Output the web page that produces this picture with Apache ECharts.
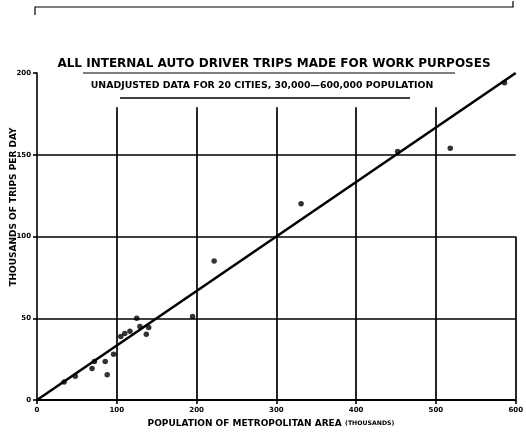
<!DOCTYPE html>
<html><head><meta charset="utf-8">
<script src="https://cdn.jsdelivr.net/npm/echarts@6/dist/echarts.min.js"></script>
<style>html,body{margin:0;padding:0;background:#fff}#c{width:526px;height:434px}</style>
</head><body><div id="c"></div>
<script>
// Data
const popX = [34, 48, 69, 72, 85.5, 88, 96, 105, 110, 116.5, 125, 129, 137, 140, 195, 222, 331, 452, 518, 586];
const trips = [11, 14.5, 19.3, 23.6, 23.6, 15.4, 28, 38.8, 40.7, 42, 50, 45, 40.2, 44.3, 51, 85, 120, 152, 154, 194];
const fitX = [0, 600];
const fitY = [0, 200];
const xTicks = [0, 100, 200, 300, 400, 500, 600];
const yTicks = [0, 50, 100, 150, 200];
const vGridX = [100, 200, 300, 400, 500];
const vGridTop = 179;
const hGridY = [50, 100, 150];
const rightEdgeTop = 100;

const FONT = '"DejaVu Sans", sans-serif';
const chart = echarts.init(document.getElementById('c'));
const lineStyle = {color: '#000', width: 1.7, type: 'solid'};
const markData = [];
vGridX.forEach(x => markData.push([{coord: [x, 0]}, {coord: [x, vGridTop]}]));
hGridY.forEach(y => markData.push([{coord: [0, y]}, {coord: [600, y]}]));
markData.push([{coord: [600, 0]}, {coord: [600, rightEdgeTop]}]);

chart.setOption({
  animation: false,
  backgroundColor: '#fff',
  grid: {left: 37, right: 6, top: 73, bottom: 34, containLabel: false},
  xAxis: {
    type: 'value', min: 0, max: 600, interval: 100,
    axisLine: {show: true, onZero: false, lineStyle: {color: '#000', width: 1.8}},
    axisTick: {show: true, length: 4, lineStyle: {color: '#000', width: 1.6}},
    axisLabel: {color: '#000', fontFamily: FONT, fontWeight: 'bold', fontSize: 7, margin: 7,
      formatter: v => xTicks.includes(v) ? String(v) : ''},
    splitLine: {show: false}
  },
  yAxis: {
    type: 'value', min: 0, max: 200, interval: 50,
    axisLine: {show: true, onZero: false, lineStyle: {color: '#000', width: 1.6}},
    axisTick: {show: true, length: 4, lineStyle: {color: '#000', width: 1.6}},
    axisLabel: {color: '#000', fontFamily: FONT, fontWeight: 'bold', fontSize: 7, margin: 6,
      formatter: v => yTicks.includes(v) ? String(v) : ''},
    splitLine: {show: false}
  },
  graphic: [
    {type: 'text', x: 274, y: 64, style: {text: 'ALL INTERNAL AUTO DRIVER TRIPS MADE FOR WORK PURPOSES', fill: '#000', font: 'bold 12px ' + FONT, align: 'center', verticalAlign: 'middle'}},
    {type: 'line', shape: {x1: 83, y1: 73, x2: 455, y2: 73}, style: {stroke: '#000', lineWidth: 1.2}},
    {type: 'text', x: 262, y: 85.5, scaleX: 1.17, style: {text: 'UNADJUSTED DATA FOR 20 CITIES, 30,000\u2014600,000 POPULATION', fill: '#000', font: 'bold 8px ' + FONT, align: 'center', verticalAlign: 'middle'}},
    {type: 'line', shape: {x1: 120, y1: 98, x2: 410, y2: 98}, style: {stroke: '#000', lineWidth: 1.4}},
    {type: 'text', x: 14, y: 207, rotation: Math.PI / 2, style: {text: 'THOUSANDS OF TRIPS PER DAY', fill: '#000', font: 'bold 9px ' + FONT, align: 'center', verticalAlign: 'middle'}},
    {type: 'text', x: 271, y: 423.5, style: {
      text: '{a|POPULATION OF METROPOLITAN AREA} {b|(THOUSANDS)}', align: 'center', verticalAlign: 'middle',
      rich: {a: {fill: '#000', font: 'bold 9px ' + FONT}, b: {fill: '#000', font: 'bold 6.2px ' + FONT}}}},
    {type: 'polyline', shape: {points: [[35, 15], [35, 7], [513, 7], [513, 1]]}, style: {stroke: '#000', lineWidth: 1.2, fill: null}}
  ],
  series: [
    {
      type: 'line', data: fitX.map((x, i) => [x, fitY[i]]), symbol: 'none',
      lineStyle: {color: '#000', width: 2.6}, z: 3,
      markLine: {silent: true, symbol: 'none', label: {show: false}, lineStyle: lineStyle, data: markData, z: 1}
    },
    {
      type: 'scatter', data: popX.map((x, i) => [x, trips[i]]), symbol: 'circle', symbolSize: 5.5,
      itemStyle: {color: '#000'}, z: 4
    }
  ]
});
</script></body></html>
